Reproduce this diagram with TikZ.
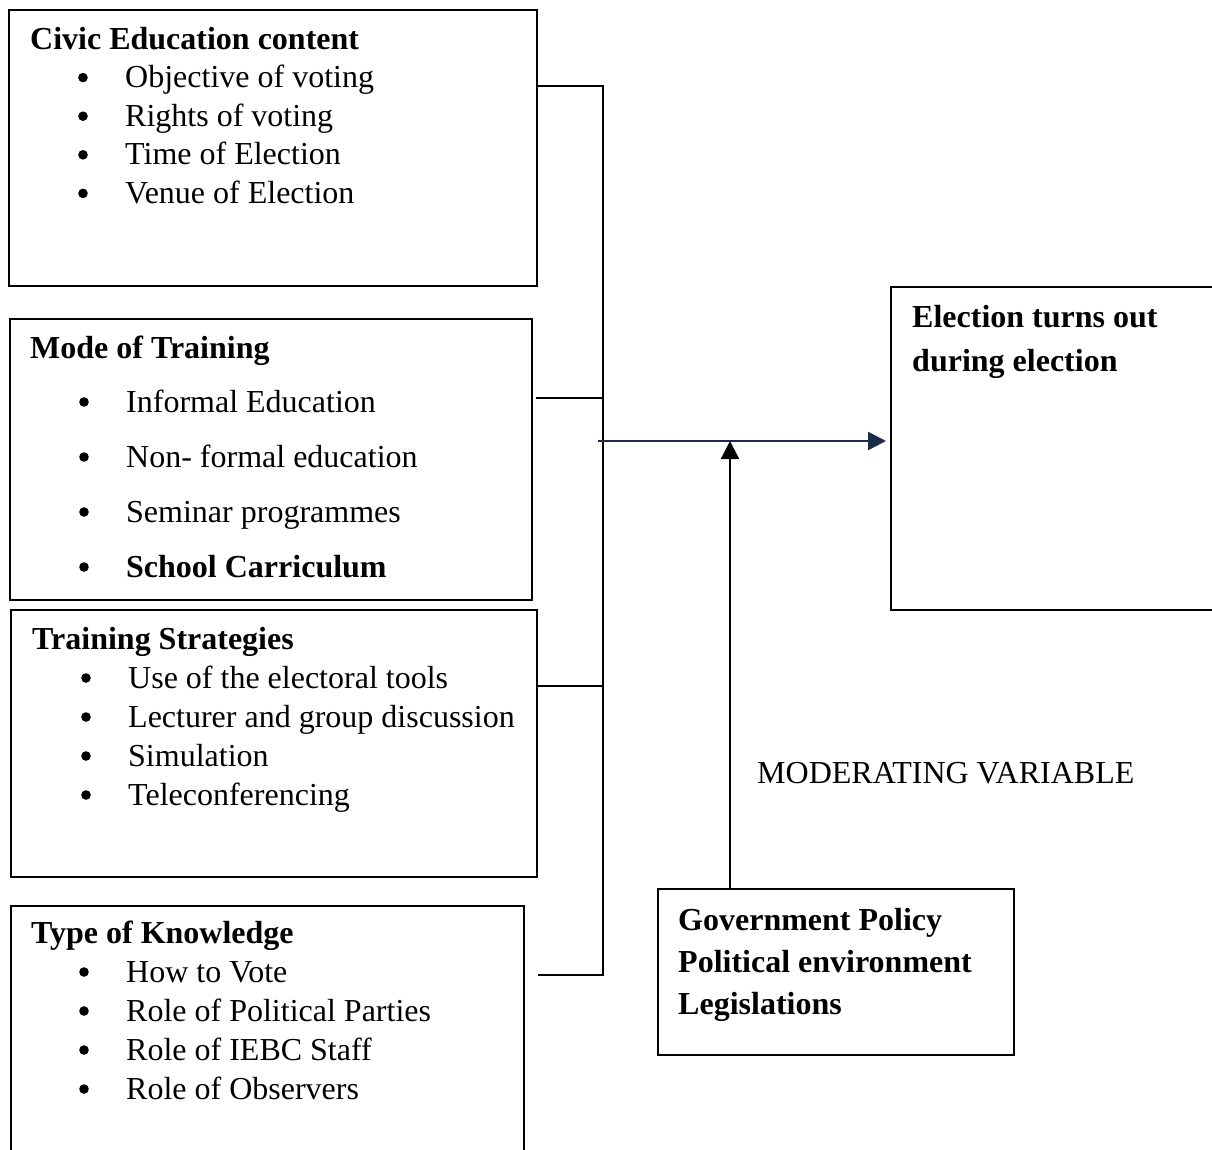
\documentclass[tikz,border=0pt]{standalone}
\usepackage{fontspec}
\setmainfont{Liberation Serif}
\usetikzlibrary{calc, positioning, arrows.meta}
\definecolor{navy}{HTML}{1C2B48}

\tikzset{
	box/.style={draw, line width=2.3pt, anchor=north west, inner sep=0pt},
	head/.style={font=\fontsize{32}{38}\selectfont\bfseries, anchor=base west, inner sep=0pt},
	item/.style={font=\fontsize{32}{38}\selectfont, anchor=base west, inner sep=0pt},
	link/.style={line width=2pt},
	flow/.style={line width=2.4pt, -{Triangle[length=18pt, width=18pt]}},
}
% viñeta delante de un item
\newcommand{\bul}[1]{\fill ($(#1.base west)+(-42,-10)$) circle (4.8pt);}

\begin{document}
\begin{tikzpicture}[x=1pt, y=-1pt]
	\useasboundingbox (0,0) rectangle (1212,1149);
	% cajas %
	\node[box, minimum width=528pt, minimum height=276pt] (civic) at (8,9) {};
	\node[box, minimum width=522pt, minimum height=281pt] (mode) at (9,318) {};
	\node[box, minimum width=526pt, minimum height=267pt] (strategy) at (10,609) {};
	\node[box, minimum width=513pt, minimum height=270pt] (knowledge) at (10,905) {};
	\node[box, minimum width=345pt, minimum height=323pt] (turnout) at (890,286) {};
	\node[box, minimum width=356pt, minimum height=166pt] (moderator) at (657,888) {};
	% textos %
	\node[head] (civic-t) at (30,49) {Civic Education content};
	\foreach \txt [count=\i] in {Objective of voting, Rights of voting, Time of Election, Venue of Election}{
		\node[item] (civic-\i) at (125,49+38.6*\i) {\txt};
		\bul{civic-\i}
	}
	\node[head] (mode-t) at (30,358) {Mode of Training};
	\foreach \txt [count=\i] in {Informal Education, Non- formal education, Seminar programmes, {\bfseries School Carriculum}}{
		\node[item] (mode-\i) at (126,357+55*\i) {\txt};
		\bul{mode-\i}
	}
	\node[head] (strategy-t) at (32,649) {Training Strategies};
	\foreach \txt [count=\i] in {Use of the electoral tools, Lecturer and group discussion, Simulation, Teleconferencing}{
		\node[item] (strategy-\i) at (128,649+39*\i) {\txt};
		\bul{strategy-\i}
	}
	\node[head] (knowledge-t) at (31,943) {Type of Knowledge};
	\foreach \txt [count=\i] in {How to Vote, Role of Political Parties, Role of IEBC Staff, Role of Observers}{
		\node[item] (knowledge-\i) at (126,943+39*\i) {\txt};
		\bul{knowledge-\i}
	}
	\node[head] (turnout-1) at (912,327) {Election turns out};
	\node[head] (turnout-2) at (912,371) {during election};
	\node[head] (moderator-1) at (678,930) {Government Policy};
	\node[head] (moderator-2) at (678,972) {Political environment};
	\node[head] (moderator-3) at (678,1014) {Legislations};
	\node[item] (modvar) at (757,783) {MODERATING VARIABLE};
	% conexiones %
	\coordinate (top) at (603,86);
	\coordinate (bot) at (603,975);
	\coordinate (s2) at (536,398);
	\coordinate (s3) at (536,686);
	\coordinate (s4) at (538,975);
	\coordinate (mid) at (598,441);
	\coordinate (hit) at (730,441);
	\draw[link] (civic.east |- top) -- (top) -- (bot) -- (s4);
	\draw[link] (s2) -- (s2 -| top);
	\draw[link] (s3) -- (s3 -| top);
	\draw[flow, navy, shorten >=4pt] (mid) -- (mid -| turnout.west);
	\draw[flow] (hit |- moderator.north) -- (hit);
\end{tikzpicture}
\end{document}
